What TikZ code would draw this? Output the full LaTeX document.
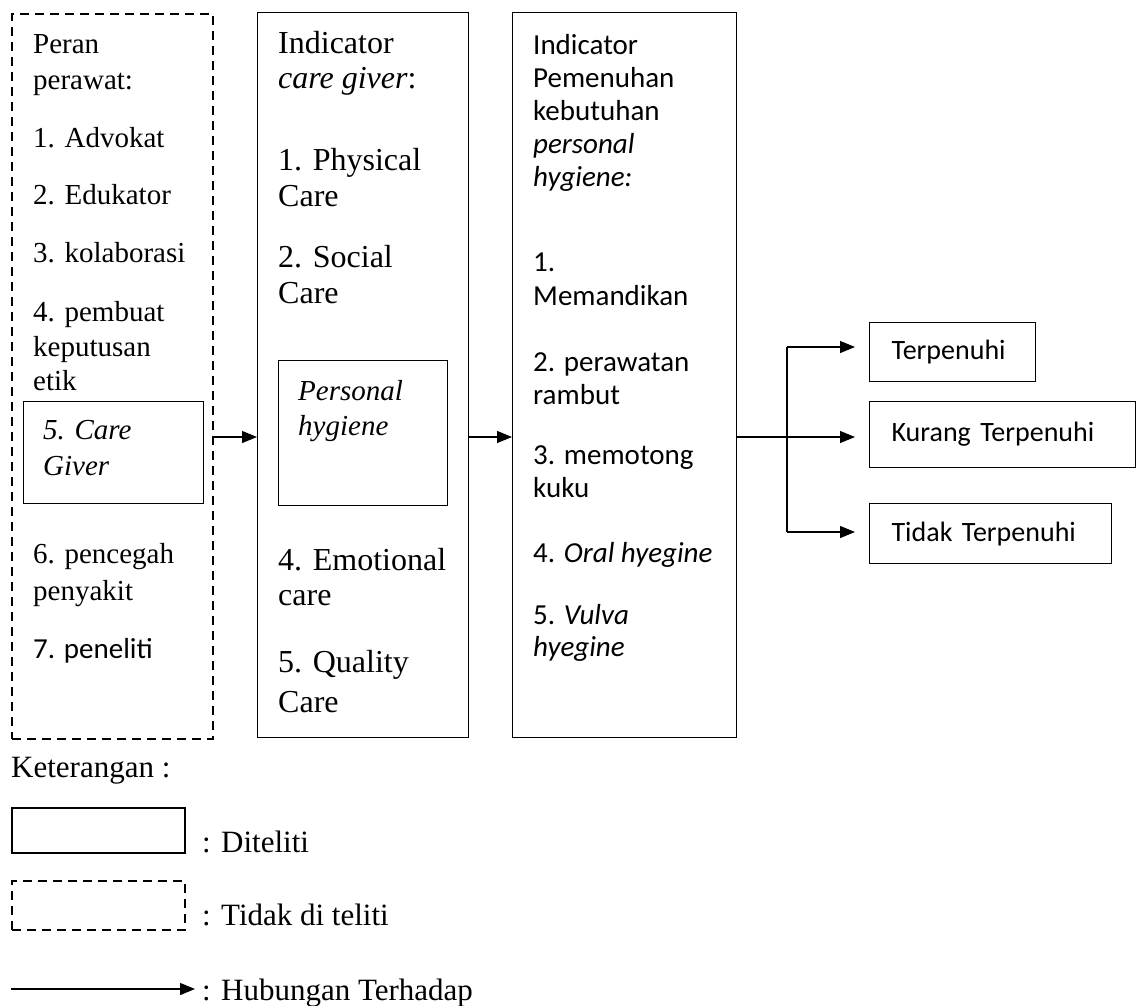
\documentclass[tikz,border=0pt]{standalone}
\usepackage{fontspec}
\setmainfont{Liberation Serif}
\newfontfamily\calfont{Carlito}
\usetikzlibrary{arrows.meta}
\begin{document}
\begin{tikzpicture}[x=1pt,y=-1pt,
  box/.style={draw, line width=1.2pt, inner sep=0pt},
  dbox/.style={draw, line width=2pt, dash pattern=on 9pt off 6pt, inner sep=0pt},
  lbox/.style={draw, line width=2pt, inner sep=0pt},
  rbox/.style={draw, line width=1.2pt, inner xsep=22pt, inner ysep=0pt, align=left, font=\calfont\fontsize{28}{32}\selectfont},
  tr/.style={anchor=base west, inner sep=0pt, font=\fontsize{29}{33}\selectfont},
  tb/.style={anchor=base west, inner sep=0pt, font=\fontsize{32}{36}\selectfont},
  cb/.style={anchor=base west, inner sep=0pt, font=\calfont\fontsize{29}{33}\selectfont},
  lg/.style={anchor=base west, inner sep=0pt, font=\fontsize{31}{35}\selectfont},
  con/.style={line width=1.2pt},
  arr/.style={line width=1.2pt, -{Triangle[length=15pt,width=12pt]}},
]
\useasboundingbox (0,0) rectangle (1136,1005);

% main boxes
\node[dbox, anchor=north west, minimum width=201pt, minimum height=725pt] (b1) at (11,13) {};
\node[box, anchor=north west, minimum width=211pt, minimum height=725pt] (b2) at (257,12) {};
\node[box, anchor=north west, minimum width=224pt, minimum height=725pt] (b3) at (512,12) {};
\node[box, anchor=north west, minimum width=180pt, minimum height=102pt] (cg) at (23,401) {};
\node[box, anchor=north west, minimum width=169pt, minimum height=145pt] (ph) at (278,360) {};

% box 1 texts
\node[tr] (p1) at (33,53) {Peran};
\node[tr] (p2) at (33,89) {perawat:};
\node[tr] (p3) at (33,147) {1. Advokat};
\node[tr] (p4) at (33,204) {2. Edukator};
\node[tr] (p5) at (33,262) {3. kolaborasi};
\node[tr] (p6) at (33,321) {4. pembuat};
\node[tr] (p7) at (33,356) {keputusan};
\node[tr] (p8) at (33,390) {etik};
\node[tr] (p9) at (43,439) {\itshape 5. Care};
\node[tr] (p10) at (43,475) {\itshape Giver};
\node[tr] (p11) at (33,563) {6. pencegah};
\node[tr] (p12) at (33,600) {penyakit};
\node[cb] (p13) at (33,658) {7. peneliti};

% box 2 texts
\node[tb] (q1) at (278,53) {Indicator};
\node[tb] (q2) at (278,88) {\textit{care giver}:};
\node[tb] (q3) at (278,170) {1. Physical};
\node[tb] (q4) at (278,206) {Care};
\node[tb] (q5) at (278,267) {2. Social};
\node[tb] (q6) at (278,303) {Care};
\node[tr] (q7) at (298,400) {\itshape Personal};
\node[tr] (q8) at (298,435) {\itshape hygiene};
\node[tb] (q9) at (278,570) {4. Emotional};
\node[tb] (q10) at (278,605) {care};
\node[tb] (q11) at (278,672) {5. Quality};
\node[tb] (q12) at (278,712) {Care};

% box 3 texts
\node[cb] (r1) at (533,54) {Indicator};
\node[cb] (r2) at (533,87) {Pemenuhan};
\node[cb] (r3) at (533,120) {kebutuhan};
\node[cb] (r4) at (533,153) {\itshape personal};
\node[cb] (r5) at (533,186) {\itshape hygiene:};
\node[cb] (r6) at (533,271) {1.};
\node[cb] (r7) at (533,305) {Memandikan};
\node[cb] (r8) at (533,371) {2. perawatan};
\node[cb] (r9) at (533,404) {rambut};
\node[cb] (r10) at (533,464) {3. memotong};
\node[cb] (r11) at (533,497) {kuku};
\node[cb] (r12) at (533,562) {4. \textit{Oral hyegine}};
\node[cb] (r13) at (533,624) {5. \textit{Vulva}};
\node[cb] (r14) at (533,656) {\itshape hyegine};

% outcome boxes
\node[rbox, anchor=north west, minimum width=166pt, minimum height=59pt, text width=122pt] (t) at (869,322) {Terpenuhi};
\node[rbox, anchor=north west, minimum width=266pt, minimum height=66pt, text width=222pt] (k) at (869,401) {Kurang Terpenuhi};
\node[rbox, anchor=north west, minimum width=242pt, minimum height=60pt, text width=198pt] (td) at (869,503) {Tidak Terpenuhi};

% connectors
\coordinate (lvl) at (0,437);
\coordinate (yt) at (0,347);
\coordinate (yb) at (0,532);
\coordinate (br) at (787,437);
\draw[arr] (lvl -| b1.east) -- (lvl -| b2.west);
\draw[arr] (lvl -| b2.east) -- (lvl -| b3.west);
\draw[arr, shorten >=14pt] (lvl -| b3.east) -- (lvl -| k.west);
\draw[con] (yt -| br) -- (yb -| br);
\draw[arr, shorten >=14pt] (yt -| br) -- (yt -| t.west);
\draw[arr, shorten >=14pt] (yb -| br) -- (yb -| td.west);

% legend
\node[lg] (ket) at (11,777) {Keterangan :};
\node[lbox, anchor=north west, minimum width=173pt, minimum height=45pt] (l1) at (11,807) {};
\node[lg] (l1t) at (202,852) {: Diteliti};
\node[dbox, anchor=north west, minimum width=173pt, minimum height=49pt] (l2) at (11,880) {};
\node[lg] (l2t) at (202,925) {: Tidak di teliti};
\coordinate (la) at (11,989);
\coordinate (lb) at (195,989);
\draw[arr] (la) -- (lb);
\node[lg] (l3t) at (202,1000) {: Hubungan Terhadap};
\end{tikzpicture}
\end{document}
